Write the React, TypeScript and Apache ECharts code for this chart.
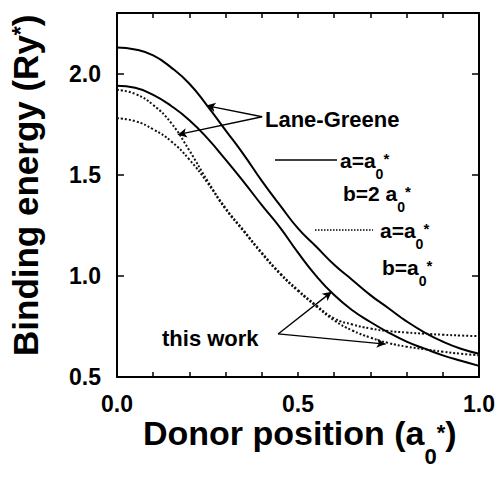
import React, { useEffect, useRef } from "react";
import * as echarts from "echarts";

const FONT = "'Liberation Sans', Arial, Helvetica, sans-serif";

// Donor position (a0*)
const donorPositions = [0, 0.05, 0.1, 0.15, 0.2, 0.25, 0.3, 0.35, 0.4, 0.45, 0.5, 0.55, 0.6, 0.65, 0.7, 0.75, 0.8, 0.85, 0.9, 0.95, 1.0];

// Binding energy (Ry*)
const laneGreeneSolid = [2.13, 2.12, 2.09, 2.03, 1.95, 1.84, 1.72, 1.6, 1.47, 1.35, 1.235, 1.145, 1.055, 0.98, 0.905, 0.84, 0.775, 0.72, 0.675, 0.64, 0.615];
const thisWorkSolid = [1.94, 1.93, 1.895, 1.84, 1.77, 1.68, 1.575, 1.465, 1.35, 1.24, 1.115, 1.0, 0.905, 0.83, 0.772, 0.72, 0.675, 0.64, 0.607, 0.58, 0.555];
const laneGreeneDotted = [1.92, 1.9, 1.845, 1.755, 1.62, 1.47, 1.335, 1.225, 1.115, 1.015, 0.93, 0.855, 0.79, 0.76, 0.74, 0.727, 0.72, 0.714, 0.709, 0.705, 0.702];
const thisWorkDotted = [1.78, 1.765, 1.725, 1.665, 1.575, 1.46, 1.33, 1.22, 1.11, 1.01, 0.925, 0.85, 0.78, 0.73, 0.695, 0.668, 0.65, 0.637, 0.625, 0.615, 0.607];

// Annotation arrows (data coordinates)
const laneGreeneArrowFrom = [0.401, 1.787];
const laneGreeneArrowTips = [[0.247, 1.842], [0.168, 1.698]];
const thisWorkArrowFrom = [0.445, 0.713];
const thisWorkArrowTips = [[0.593, 0.921], [0.742, 0.663]];

const xRange = [0, 1];
const yRange = [0.5, 2.3];

function textWidth(t: string, size: number): number {
  const c = document.createElement("canvas").getContext("2d");
  if (!c) return t.length * size * 0.55;
  c.font = `bold ${size}px ${FONT}`;
  return c.measureText(t).width;
}

type Piece = { t: string; size: number; dy?: number };
function textRun(x0: number, y0: number, pieces: Piece[]): any[] {
  let x = x0;
  return pieces.map((p) => {
    const el = {
      type: "text",
      x,
      y: y0 + (p.dy || 0),
      silent: true,
      style: {
        text: p.t,
        fill: "#000",
        fontSize: p.size,
        fontWeight: "bold",
        fontFamily: FONT,
        align: "left",
        verticalAlign: "middle",
      },
    };
    x += textWidth(p.t, p.size);
    return el;
  });
}

function pairs(vals: number[]) {
  return donorPositions.map((x, i) => [x, vals[i]]);
}

function arrows(from: number[], tips: number[][]) {
  return tips.map((t) => [{ coord: from }, { coord: t }]);
}

const tickLabelStyle = {
  fontSize: 23,
  fontWeight: "bold" as const,
  fontFamily: FONT,
  color: "#000",
};

const axisLine = { show: true, onZero: false, lineStyle: { color: "#000", width: 2 } };

export default function App() {
  const ref = useRef<HTMLDivElement>(null);
  useEffect(() => {
    if (!ref.current) return;
    const chart = echarts.init(ref.current, null, { renderer: "svg" });
    const solidStyle = { color: "#000", width: 2, type: "solid" as const };
    const dottedStyle = { color: "#111", width: 2, type: [2, 2] as any };
    const legendSub = { size: 14, dy: 14 };
    const option: any = {
      animation: false,
      backgroundColor: "#fff",
      grid: { left: 117, right: 17, top: 13, bottom: 112 },
      xAxis: [
        {
          type: "value",
          min: xRange[0],
          max: xRange[1],
          interval: 0.1,
          position: "bottom",
          axisLine,
          axisTick: { show: true, inside: true, length: 5, lineStyle: { color: "#000", width: 1.5 } },
          axisLabel: {
            ...tickLabelStyle,
            margin: 15,
            formatter: (v: number) => (Math.abs(v * 2 - Math.round(v * 2)) < 1e-6 ? v.toFixed(1) : ""),
          },
          splitLine: { show: false },
        },
        {
          type: "value",
          min: xRange[0],
          max: xRange[1],
          interval: 0.1,
          position: "top",
          axisLine,
          axisTick: { show: true, inside: true, length: 5, lineStyle: { color: "#000", width: 1.5 } },
          axisLabel: { show: false },
          splitLine: { show: false },
        },
      ],
      yAxis: [
        {
          type: "value",
          min: yRange[0],
          max: yRange[1],
          interval: 0.5,
          position: "left",
          axisLine,
          axisTick: { show: true, inside: true, length: 7, lineStyle: { color: "#000", width: 1.5 } },
          axisLabel: {
            ...tickLabelStyle,
            margin: 16,
            showMaxLabel: false,
            formatter: (v: number) => v.toFixed(1),
          },
          splitLine: { show: false },
        },
        {
          type: "value",
          min: yRange[0],
          max: yRange[1],
          interval: 0.5,
          position: "right",
          axisLine,
          axisTick: { show: true, inside: true, length: 7, lineStyle: { color: "#000", width: 1.5 } },
          axisLabel: { show: false },
          splitLine: { show: false },
        },
      ],
      series: [
        {
          name: "Lane-Greene a=a0 b=2a0",
          type: "line",
          smooth: true,
          showSymbol: false,
          data: pairs(laneGreeneSolid),
          lineStyle: solidStyle,
          itemStyle: { color: "#000" },
          markLine: {
            silent: true,
            symbol: ["none", "arrow"],
            symbolSize: [7, 9],
            label: { show: false },
            lineStyle: { color: "#000", width: 1.3, type: "solid" },
            data: [...arrows(laneGreeneArrowFrom, laneGreeneArrowTips), ...arrows(thisWorkArrowFrom, thisWorkArrowTips)],
          },
        },
        {
          name: "This work a=a0 b=2a0",
          type: "line",
          smooth: true,
          showSymbol: false,
          data: pairs(thisWorkSolid),
          lineStyle: solidStyle,
          itemStyle: { color: "#000" },
        },
        {
          name: "Lane-Greene a=a0 b=a0",
          type: "line",
          smooth: true,
          showSymbol: false,
          data: pairs(laneGreeneDotted),
          lineStyle: dottedStyle,
          itemStyle: { color: "#000" },
        },
        {
          name: "This work a=a0 b=a0",
          type: "line",
          smooth: true,
          showSymbol: false,
          data: pairs(thisWorkDotted),
          lineStyle: dottedStyle,
          itemStyle: { color: "#000" },
        },
      ],
      graphic: [
        // axis titles
        ...textRun(143, 433, [
          { t: "Donor position (a", size: 34 },
          { t: "0", size: 22, dy: 23 },
          { t: "*", size: 22, dy: -1 },
          { t: ")", size: 34 },
        ]),
        {
          type: "group",
          x: 25,
          y: 356,
          rotation: Math.PI / 2,
          children: textRun(0, 0, [
            { t: "Binding energy (Ry", size: 35 },
            { t: "*", size: 23, dy: -4 },
            { t: ")", size: 35 },
          ]),
        },
        // annotations
        ...textRun(265, 119.3, [{ t: "Lane-Greene", size: 22 }]),
        ...textRun(162, 338, [{ t: "this work", size: 22 }]),
        // legend
        { type: "line", silent: true, shape: { x1: 275, y1: 160, x2: 337, y2: 160 }, style: { stroke: "#000", lineWidth: 1.5 } },
        ...textRun(340, 160.4, [
          { t: "a=a", size: 21 },
          { t: "0", size: legendSub.size, dy: legendSub.dy },
          { t: "*", size: 15, dy: -2 },
        ]),
        ...textRun(343, 193.4, [
          { t: "b=2 a", size: 21 },
          { t: "0", size: legendSub.size, dy: legendSub.dy },
          { t: "*", size: 15, dy: -2 },
        ]),
        { type: "line", silent: true, shape: { x1: 315, y1: 230, x2: 373, y2: 230 }, style: { stroke: "#000", lineWidth: 1.5, lineDash: [1.5, 1.5] } },
        ...textRun(380, 230.4, [
          { t: "a=a", size: 21 },
          { t: "0", size: legendSub.size, dy: legendSub.dy },
          { t: "*", size: 15, dy: -2 },
        ]),
        ...textRun(382, 267.4, [
          { t: "b=a", size: 21 },
          { t: "0", size: legendSub.size, dy: legendSub.dy },
          { t: "*", size: 15, dy: -2 },
        ]),
      ],
    };
    chart.setOption(option);
    return () => chart.dispose();
  }, []);
  return (
    <div
      ref={ref}
      style={{ position: "absolute", left: 0, top: 0, width: 498, height: 489, background: "#fff" }}
    />
  );
}
